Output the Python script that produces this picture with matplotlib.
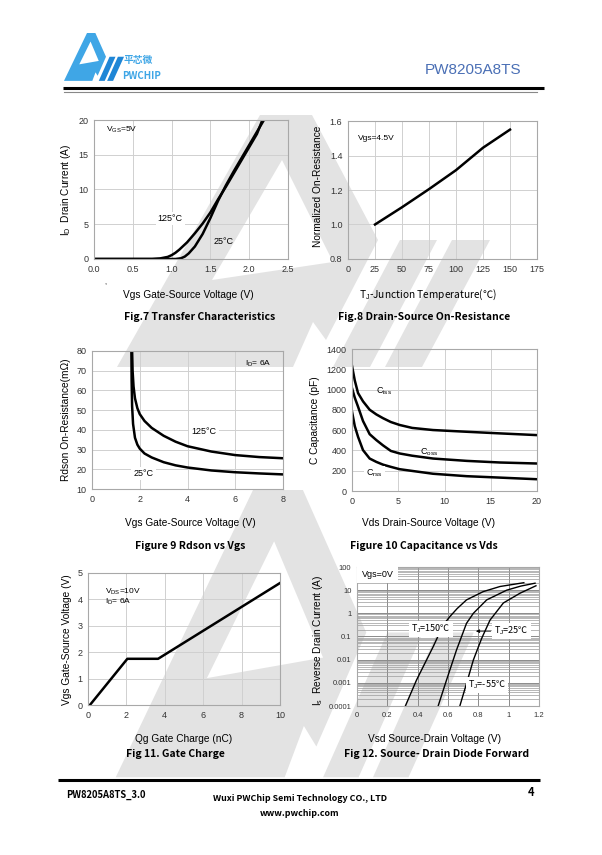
import matplotlib
matplotlib.use("Agg")
import matplotlib.pyplot as plt
from matplotlib.patches import Polygon

plt.rcParams["font.family"] = ["Liberation Sans", "DejaVu Sans"]
plt.rcParams["mathtext.fontset"] = "custom"
plt.rcParams["mathtext.rm"] = "Liberation Sans"
plt.rcParams["mathtext.it"] = "Liberation Sans:italic"
plt.rcParams["mathtext.bf"] = "Liberation Sans:bold"

W, H = 602, 855
CJK = ["Noto Sans CJK SC", "DejaVu Sans"]

# Fig 7 transfer characteristics
vgs_125 = [0.0, 0.75, 0.85, 0.95, 1.0, 1.05, 1.1, 1.2, 1.3, 1.4, 1.5, 1.6, 1.7, 1.8, 1.9, 2.0, 2.1, 2.17]
id_125 = [0, 0, 0.08, 0.3, 0.55, 0.9, 1.35, 2.4, 3.7, 5.1, 6.7, 8.6, 10.4, 12.3, 14.2, 16.1, 18.0, 20.0]
vgs_25 = [0.0, 1.05, 1.12, 1.17, 1.22, 1.3, 1.4, 1.5, 1.6, 1.7, 1.8, 1.9, 2.0, 2.1, 2.19]
id_25 = [0, 0, 0.1, 0.35, 0.8, 1.8, 3.6, 5.9, 8.4, 10.6, 12.6, 14.5, 16.4, 18.3, 20.0]

# Fig 8 normalized on-resistance
tj = [25, 50, 75, 100, 125, 150]
rds_norm = [1.0, 1.10, 1.205, 1.315, 1.445, 1.55]

# Fig 9 Rdson vs Vgs
vg9_125 = [1.68, 1.70, 1.74, 1.80, 1.90, 2.0, 2.2, 2.5, 3.0, 3.5, 4.0, 5.0, 6.0, 7.0, 8.0]
rd_125 = [80, 70, 62, 56, 51, 48, 44.5, 41, 37, 34, 31.7, 29, 27.2, 26.2, 25.6]
vg9_25 = [1.65, 1.66, 1.68, 1.72, 1.80, 1.90, 2.0, 2.2, 2.5, 3.0, 3.5, 4.0, 5.0, 6.0, 7.0, 8.0]
rd_25 = [80, 65, 52, 43, 36, 32.5, 30.5, 28, 26, 23.6, 22, 20.9, 19.4, 18.5, 17.9, 17.4]

# Fig 10 capacitance
vds10 = [0.0, 0.3, 0.65, 1.19, 1.91, 2.63, 3.35, 4.2, 5.15, 6.5, 8.76, 12.4, 16.0, 20.0]
ciss = [1233, 1090, 966, 884, 801, 755, 718, 680, 651, 622, 601, 584, 568, 551]
coss = [1014, 920, 832, 690, 560, 502, 450, 395, 370, 348, 320, 297, 281, 271]
crss = [783, 640, 535, 403, 320, 287, 260, 238, 215, 198, 170, 146, 132, 116]

# Fig 11 gate charge
qg = [0.1, 2.05, 3.65, 10.0]
vg11 = [0.0, 1.75, 1.75, 4.62]

# Fig 12 body diode forward
vsd_150 = [0.319, 0.392, 0.502, 0.568, 0.612, 0.66, 0.722, 0.833, 0.943, 1.10]
is_150 = [1e-4, 1.3e-3, 0.036, 0.31, 0.72, 1.6, 3.8, 8.7, 14.4, 21]
vsd_25 = [0.535, 0.590, 0.656, 0.722, 0.767, 0.855, 0.987, 1.08, 1.174]
is_25 = [1e-4, 1.3e-3, 0.026, 0.37, 1.0, 3.8, 10, 15, 20]
vsd_m55 = [0.678, 0.722, 0.767, 0.822, 0.877, 0.965, 1.075, 1.18]
is_m55 = [1e-4, 9.3e-4, 0.0096, 0.083, 0.51, 2.8, 7.4, 15.5]

# logo outline, traced from the upper watermark (page pixels)
logo_body = [(117, 367), (260, 115), (312, 115), (378, 240), (326, 340), (313, 322), (293, 367)]
logo_hole = [(282, 160), (212, 280), (333, 262)]
logo_stripes = [[(400, 240), (437, 240), (370, 367), (333, 367)],
                [(452, 240), (490, 240), (422, 367), (385, 367)]]

fig = plt.figure(figsize=(W / 100, H / 100), dpi=100)
bg = fig.add_axes([0, 0, 1, 1], zorder=-5)
bg.set_xlim(0, W)
bg.set_ylim(H, 0)
bg.axis("off")


def draw_logo(x0, y0, sx, sy, body, hole, stripe, background="white"):
    def tf(pts):
        return [(x0 + (x - 260) * sx, y0 + (y - 115) * sy) for x, y in pts]
    bg.add_patch(Polygon(tf(logo_body), facecolor=body, edgecolor="none"))
    bg.add_patch(Polygon(tf(logo_hole), facecolor=background, edgecolor="none"))
    for s in logo_stripes:
        bg.add_patch(Polygon(tf(s), facecolor=stripe, edgecolor="none"))


wm = "#e3e3e3"
draw_logo(260, 115, 1.0, 1.0, wm, "white", wm)
draw_logo(253, 490, 0.96, 1.14, wm, "white", wm)
draw_logo(87, 33, 0.161, 0.19, "#3fa6e6", "white", "#1f86d6")

# header and footer
bg.text(124, 60, "平芯微", family=CJK, fontsize=7, weight="bold", color="#3fa6e6", va="center")
bg.text(122, 76, "PWCHIP", family=CJK, fontsize=7, weight="bold", color="#3fa6e6", va="center")
bg.text(521, 70, "PW8205A8TS", fontsize=11, color="#4a6fb5", ha="right", va="center")
bg.plot([63, 544], [88, 88], color="black", lw=2.2, solid_capstyle="butt")
bg.plot([64, 537], [92, 92], color="#888888", lw=0.8)
bg.plot([58, 540], [780, 780], color="black", lw=2.2, solid_capstyle="butt")
bg.text(66, 795, "PW8205A8TS_3.0", family=CJK, fontsize=6.8, weight="bold", va="center")
bg.text(300, 798, "Wuxi PWChip Semi Technology CO., LTD", family=CJK, fontsize=6.4,
        weight="bold", ha="center", va="center")
bg.text(300, 813, "www.pwchip.com", family=CJK, fontsize=6.4, weight="bold", ha="center", va="center")
bg.text(531, 792, "4", family=CJK, fontsize=8, weight="bold", ha="center", va="center")


def add_ax(left, top, right, bottom):
    ax = fig.add_axes([left / W, 1 - bottom / H, (right - left) / W, (bottom - top) / H])
    ax.set_facecolor("none")
    for sp in ax.spines.values():
        sp.set_color("#a8a8a8")
        sp.set_linewidth(0.8)
    ax.grid(True, color="#d0d0d0", lw=0.7)
    ax.set_axisbelow(True)
    ax.tick_params(length=0, labelsize=6.5, colors="#333333", pad=4)
    return ax


def labels(xlabel, xl_pos, cap, cap_pos, ylabel, yl_pos):
    fam = CJK if "℃" in xlabel else None
    bg.text(*xl_pos, xlabel, family=fam, fontsize=7.3, ha="center", va="center")
    bg.text(*cap_pos, cap, family=CJK, fontsize=7.5, weight="bold", ha="center", va="center")
    bg.text(*yl_pos, ylabel, fontsize=7.3, ha="center", va="center", rotation=90)


box = dict(facecolor="white", edgecolor="none", pad=1.5)

# Fig 7
ax = add_ax(94, 120, 288, 259)
ax.plot(vgs_125, id_125, color="black", lw=1.8)
ax.plot(vgs_25, id_25, color="black", lw=1.8)
ax.set_xlim(0, 2.5)
ax.set_ylim(0, 20)
ax.set_xticks([0, 0.5, 1.0, 1.5, 2.0, 2.5])
ax.set_xticklabels(["0.0", "0.5", "1.0", "1.5", "2.0", "2.5"])
ax.set_yticks([0, 5, 10, 15, 20])
ax.text(0.16, 18.6, "V$_{\\mathrm{GS}}$=5V", fontsize=6, va="center")
ax.text(0.82, 5.85, "125°C", fontsize=6.5, va="center", bbox=box)
ax.text(1.54, 2.5, "25°C", fontsize=6.5, va="center")
labels("Vgs Gate-Source Voltage (V)", (188, 295), "Fig.7 Transfer Characteristics", (200, 317),
       "I$_{\\mathrm{D}}$  Drain Current (A)", (66, 190))
bg.text(105, 283, ",", fontsize=5, ha="center", va="center")

# Fig 8
ax = add_ax(348, 121, 537, 259)
ax.plot(tj, rds_norm, color="black", lw=1.8)
ax.set_xlim(0, 175)
ax.set_ylim(0.8, 1.6)
ax.set_xticks([0, 25, 50, 75, 100, 125, 150, 175])
ax.set_yticks([0.8, 1.0, 1.2, 1.4, 1.6])
ax.set_yticklabels(["0.8", "1.0", "1.2", "1.4", "1.6"])
ax.text(9, 1.5, "Vgs=4.5V", fontsize=6, va="center")
labels("T$_{\\mathrm{J}}$-Junction Temperature(℃)", (428, 295),
       "Fig.8 Drain-Source On-Resistance", (424, 317),
       "Normalized On-Resistance", (318, 186))

# Fig 9
ax = add_ax(92, 351, 283, 489)
ax.plot(vg9_125, rd_125, color="black", lw=1.8)
ax.plot(vg9_25, rd_25, color="black", lw=1.8)
ax.set_xlim(0, 8)
ax.set_ylim(10, 80)
ax.set_xticks([0, 2, 4, 6, 8])
ax.set_yticks(range(10, 81, 10))
ax.text(6.4, 73.7, "I$_{\\mathrm{D}}$= 6A", fontsize=6, va="center")
ax.text(4.17, 39.1, "125°C", fontsize=6.5, va="center", bbox=box)
ax.text(1.74, 18.0, "25°C", fontsize=6.5, va="center", bbox=box)
labels("Vgs Gate-Source Voltage (V)", (190, 523), "Figure 9 Rdson vs Vgs", (190, 546),
       "Rdson On-Resistance(m\u03a9)", (66, 420))

# Fig 10
ax = add_ax(352, 349, 537, 491)
for c in (ciss, coss, crss):
    ax.plot(vds10, c, color="black", lw=1.8)
ax.set_xlim(0, 20)
ax.set_ylim(0, 1400)
ax.set_xticks([0, 5, 10, 15, 20])
ax.set_yticks(range(0, 1401, 200))
ax.text(2.6, 981, "C$_{\\mathrm{iss}}$", fontsize=6.5, va="center")
ax.text(7.3, 385, "C$_{\\mathrm{oss}}$", fontsize=6.5, va="center")
ax.text(1.55, 172, "C$_{\\mathrm{rss}}$", fontsize=6.5, va="center", bbox=box)
labels("Vds Drain-Source Voltage (V)", (428, 523), "Figure 10 Capacitance vs Vds", (424, 546),
       "C Capacitance (pF)", (315, 420))

# Fig 11
ax = add_ax(88, 573, 280, 705)
ax.plot(qg, vg11, color="black", lw=1.8)
ax.set_xlim(0, 10)
ax.set_ylim(0, 5)
ax.set_xticks([0, 2, 4, 6, 8, 10])
ax.set_yticks(range(0, 6))
ax.text(0.9, 4.3, "V$_{\\mathrm{DS}}$=10V", fontsize=6, va="center")
ax.text(0.9, 3.92, "I$_{\\mathrm{D}}$= 6A", fontsize=6, va="center")
labels("Qg Gate Charge (nC)", (184, 739), "Fig 11. Gate Charge", (175, 754),
       "Vgs Gate-Source Voltage (V)", (67, 640))

# Fig 12
ax = add_ax(357, 567, 539, 706)
ax.set_yscale("log")
for xs, ys in ((vsd_150, is_150), (vsd_25, is_25), (vsd_m55, is_m55)):
    ax.plot(xs, ys, color="black", lw=1.0)
ax.set_xlim(0, 1.2)
ax.set_ylim(1e-4, 100)
ax.set_xticks([0, 0.2, 0.4, 0.6, 0.8, 1.0, 1.2])
ax.set_xticklabels(["0", "0.2", "0.4", "0.6", "0.8", "1", "1.2"])
ax.set_yticks([1e-4, 1e-3, 1e-2, 1e-1, 1, 10, 100])
ax.set_yticklabels(["0.0001", "0.001", "0.01", "0.1", "1", "10", "100"])
ax.grid(True, which="major", color="#8a8a8a", lw=0.7)
ax.grid(True, which="minor", axis="y", color="#9a9a9a", lw=0.5)
ax.tick_params(which="both", length=0, labelsize=5.5)
ax.text(0.03, 46, "Vgs=0V", fontsize=6.5, va="center", bbox=dict(facecolor="white", edgecolor="none", pad=3))
ax.text(0.355, 0.21, "T$_{\\mathrm{J}}$=150℃", family=CJK, fontsize=6.5, va="center", bbox=box)
ax.text(0.905, 0.17, "T$_{\\mathrm{J}}$=25℃", family=CJK, fontsize=6.5, va="center", bbox=box)
ax.annotate("", xy=(0.766, 0.17), xytext=(0.9, 0.17),
            arrowprops=dict(arrowstyle="-|>", color="black", lw=0.6, mutation_scale=5))
ax.text(0.73, 8e-4, "T$_{\\mathrm{J}}$=-55℃", family=CJK, fontsize=6.5, va="center", bbox=box)
labels("Vsd Source-Drain Voltage (V)", (434, 739), "Fig 12. Source- Drain Diode Forward", (437, 754),
       "I$_{\\mathrm{s}}$  Reverse Drain Current (A)", (318, 640))

fig.savefig("out.png", dpi=100)
